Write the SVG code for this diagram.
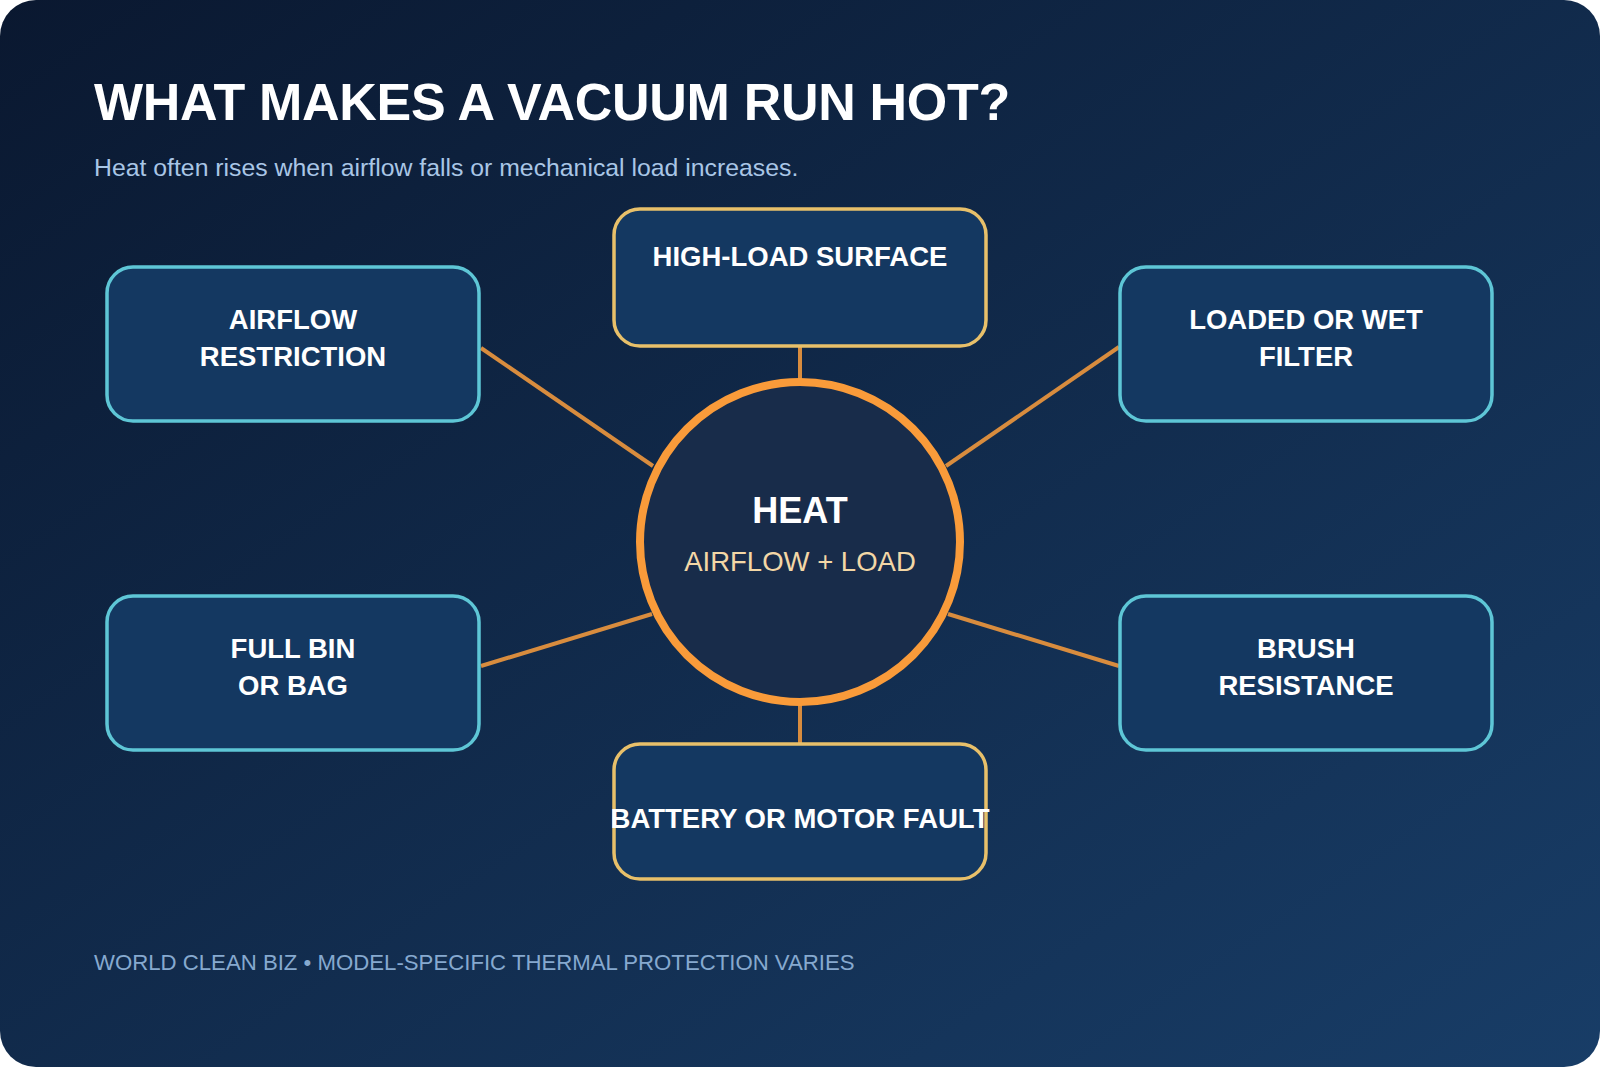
<svg xmlns="http://www.w3.org/2000/svg" width="1600" height="1067" viewBox="0 0 1600 1067">
  <defs>
    <linearGradient id="bg" x1="0" y1="0" x2="1" y2="1">
      <stop offset="0" stop-color="#0a1830"/>
      <stop offset="1" stop-color="#183d67"/>
    </linearGradient>
    <style>
      .box { fill: #143861; stroke-width: 3.5; }
      .cyan { stroke: #5ec6d6; }
      .gold { stroke: #e8c06a; }
      .lbl { font-family: "Liberation Sans", Arial, sans-serif; font-weight: bold; font-size: 27.5px; fill: #ffffff; text-anchor: middle; }
      .conn { stroke: #d88c3e; stroke-width: 4; fill: none; }
    </style>
  </defs>
  <rect x="0" y="0" width="1600" height="1067" fill="#ffffff"/>
  <rect x="0" y="0" width="1600" height="1067" rx="36" ry="36" fill="url(#bg)"/>

  <text x="94" y="120" font-family="Liberation Sans, Arial, sans-serif" font-weight="bold" font-size="52" letter-spacing="-0.3" fill="#ffffff">WHAT MAKES A VACUUM RUN HOT?</text>
  <text x="94" y="176" font-family="Liberation Sans, Arial, sans-serif" font-size="24.8" fill="#a9c6e6">Heat often rises when airflow falls or mechanical load increases.</text>

  <g id="connectors">
    <line class="conn" x1="800" y1="346" x2="800" y2="380"/>
    <line class="conn" x1="800" y1="704" x2="800" y2="744"/>
    <line class="conn" x1="481" y1="348" x2="653" y2="466"/>
    <line class="conn" x1="481" y1="666" x2="652" y2="614"/>
    <line class="conn" x1="1119" y1="347" x2="946" y2="466"/>
    <line class="conn" x1="1119" y1="666" x2="948" y2="614"/>
  </g>

  <g id="node-heat">
    <circle cx="800" cy="542" r="160" fill="#182c4a" stroke="#f99b3a" stroke-width="8"/>
    <text x="800" y="523" font-family="Liberation Sans, Arial, sans-serif" font-weight="bold" font-size="36" fill="#ffffff" text-anchor="middle">HEAT</text>
    <text x="800" y="571" font-family="Liberation Sans, Arial, sans-serif" font-size="27.5" fill="#f3d7a6" text-anchor="middle">AIRFLOW + LOAD</text>
  </g>

  <g id="node-high-load">
    <rect class="box gold" x="614" y="209" width="372" height="137" rx="26"/>
    <text class="lbl" x="800" y="266">HIGH-LOAD SURFACE</text>
  </g>

  <g id="node-airflow">
    <rect class="box cyan" x="107" y="267" width="372" height="154" rx="26"/>
    <text class="lbl" x="293" y="329">AIRFLOW</text>
    <text class="lbl" x="293" y="366">RESTRICTION</text>
  </g>

  <g id="node-filter">
    <rect class="box cyan" x="1120" y="267" width="372" height="154" rx="26"/>
    <text class="lbl" x="1306" y="329">LOADED OR WET</text>
    <text class="lbl" x="1306" y="366">FILTER</text>
  </g>

  <g id="node-bin">
    <rect class="box cyan" x="107" y="596" width="372" height="154" rx="26"/>
    <text class="lbl" x="293" y="658">FULL BIN</text>
    <text class="lbl" x="293" y="695">OR BAG</text>
  </g>

  <g id="node-brush">
    <rect class="box cyan" x="1120" y="596" width="372" height="154" rx="26"/>
    <text class="lbl" x="1306" y="658">BRUSH</text>
    <text class="lbl" x="1306" y="695">RESISTANCE</text>
  </g>

  <g id="node-battery">
    <rect class="box gold" x="614" y="744" width="372" height="135" rx="26"/>
    <text class="lbl" x="800" y="828">BATTERY OR MOTOR FAULT</text>
  </g>

  <text x="94" y="970" font-family="Liberation Sans, Arial, sans-serif" font-size="22.2" fill="#86a9cf">WORLD CLEAN BIZ • MODEL-SPECIFIC THERMAL PROTECTION VARIES</text>
</svg>
